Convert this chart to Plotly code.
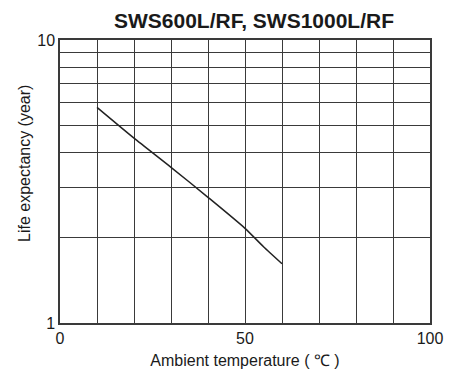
import plotly.graph_objects as go

temperature = [10, 20, 30, 40, 50, 55, 60]
life_years = [5.78, 4.5, 3.55, 2.78, 2.16, 1.86, 1.62]

x_tick_vals = list(range(0, 101, 10))
x_tick_text = ["0", "", "", "", "", "50", "", "", "", "", "100"]
y_tick_vals = [1, 2, 3, 4, 5, 6, 7, 8, 9, 10]
y_tick_text = ["1", "", "", "", "", "", "", "", "", "10"]

fig = go.Figure()
fig.add_trace(go.Scatter(x=temperature, y=life_years, mode="lines",
                         line=dict(color="#222222", width=1.5, shape="spline", smoothing=0.6),
                         showlegend=False, hoverinfo="skip"))

grid_color = "#3a3a3a"
W, H = 451, 370
L, R, T, B = 60, 21, 40, 47
fig.update_layout(
    width=W, height=H,
    margin=dict(l=L, r=R, t=T, b=B, autoexpand=False),
    paper_bgcolor="white", plot_bgcolor="white",
    font=dict(family="Liberation Sans, Arial, sans-serif", color="#1a1a1a", size=16),
    title=dict(text="<b>SWS600L/RF, SWS1000L/RF</b>", x=254 / W, xref="container", xanchor="center",
               y=1 - 21 / H, yref="container", yanchor="middle",
               font=dict(size=21, color="#1a1a1a")),
    xaxis=dict(range=[0, 100], tickvals=x_tick_vals, ticktext=x_tick_text,
               showgrid=True, gridcolor=grid_color, gridwidth=1.3,
               showline=True, linecolor=grid_color, linewidth=1.5, mirror=True,
               ticks="", zeroline=False, tickfont=dict(size=16), automargin=False,
               title=dict(text="Ambient temperature ( ℃ )", font=dict(size=16), standoff=9)),
    yaxis=dict(type="log", range=[0, 1], tickvals=y_tick_vals, ticktext=y_tick_text,
               showgrid=True, gridcolor=grid_color, gridwidth=1.3,
               showline=True, linecolor=grid_color, linewidth=1.5, mirror=True,
               ticks="", zeroline=False, tickfont=dict(size=16), automargin=False),
    annotations=[dict(text="Life expectancy (year)", textangle=-90, showarrow=False,
                      xref="paper", yref="paper",
                      x=(24 - L) / (W - L - R), y=(H - B - 164) / (H - B - T),
                      xanchor="center", yanchor="middle", font=dict(size=16))],
)

fig.write_html("out.html", post_script="document.body.style.margin='0';",
               config={"displayModeBar": False})
